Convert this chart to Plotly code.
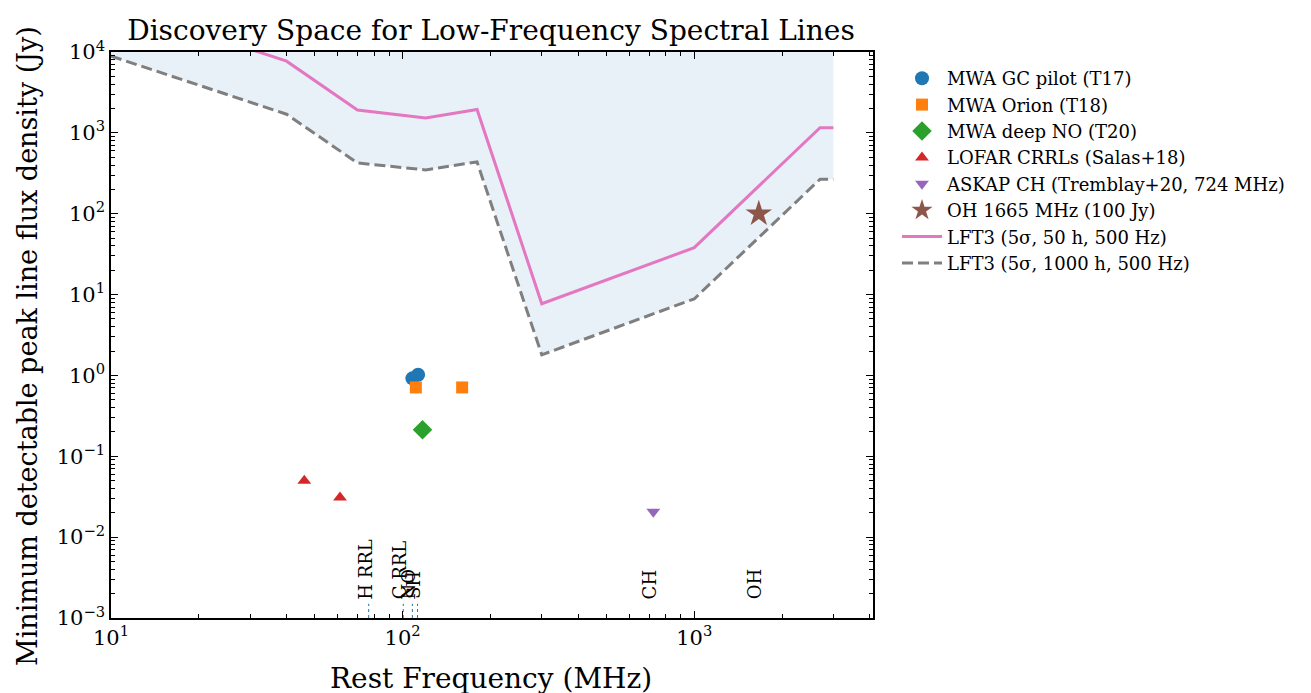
import math
import plotly.graph_objects as go

# ---- data ----
lft_freq = [10, 40, 70, 120, 180, 300, 1000, 2700, 3000]
lft_50h = [40000, 7700, 1920, 1530, 1950, 7.7, 38, 1160, 1160]
lft_1000h = [8900, 1700, 425, 348, 437, 1.8, 8.85, 267, 267]

gc_freq = [108, 113]
gc_flux = [0.92, 1.02]
orion_freq = [111, 160]
orion_flux = [0.71, 0.71]
no_freq = [117]
no_flux = [0.213]
lofar_freq = [46, 61]
lofar_flux = [0.050, 0.031]
askap_freq = [724]
askap_flux = [0.0206]
oh_freq = [1665]
oh_flux = [100]

line_names = ["H RRL", "C RRL", "NO", "SH", "CH", "OH"]
line_freqs = [76.5, 100.5, 108, 112.5, 724, 1665]
marked_lines = ["H RRL", "C RRL", "NO", "SH"]

x_tickvals = [10, 100, 1000]
x_ticktext = ["10<sup>1</sup>", "10<sup>2</sup>", "10<sup>3</sup>"]
y_tickvals = [1e-3, 1e-2, 1e-1, 1, 10, 100, 1e3, 1e4]
y_ticktext = ["10<sup>−3</sup>", "10<sup>−2</sup>", "10<sup>−1</sup>", "10<sup>0</sup>",
              "10<sup>1</sup>", "10<sup>2</sup>", "10<sup>3</sup>", "10<sup>4</sup>"]

FONT = "DejaVu Serif"
C = ["#1f77b4", "#ff7f0e", "#2ca02c", "#d62728", "#9467bd", "#8c564b", "#e377c2", "#7f7f7f"]

# page body has an 8px default margin; the plot area is placed accordingly
L, T, W, H = 103, 44, 762, 566
FIG_W, FIG_H = 1311, 693


def minor_vals(lo_exp, hi_exp):
    return [m * 10 ** e for e in range(lo_exp, hi_exp + 1) for m in range(2, 10)]


fig = go.Figure()

# discovery-space fill (between the 1000 h curve and the top of the axes)
fill_x = lft_freq + lft_freq[::-1]
fill_y = lft_1000h + [1e4] * len(lft_freq)
fig.add_trace(go.Scatter(x=fill_x, y=fill_y, fill="toself", mode="none",
                         fillcolor="rgba(31,119,180,0.1)", showlegend=False, hoverinfo="skip"))

fig.add_trace(go.Scatter(x=gc_freq, y=gc_flux, mode="markers", name="MWA GC pilot (T17)",
                         marker=dict(symbol="circle", size=14, color=C[0])))
fig.add_trace(go.Scatter(x=orion_freq, y=orion_flux, mode="markers", name="MWA Orion (T18)",
                         marker=dict(symbol="square", size=12, color=C[1])))
fig.add_trace(go.Scatter(x=no_freq, y=no_flux, mode="markers", name="MWA deep NO (T20)",
                         marker=dict(symbol="diamond", size=15, color=C[2])))
fig.add_trace(go.Scatter(x=lofar_freq, y=lofar_flux, mode="markers", name="LOFAR CRRLs (Salas+18)",
                         marker=dict(symbol="triangle-up", size=12, color=C[3])))
fig.add_trace(go.Scatter(x=askap_freq, y=askap_flux, mode="markers", name="ASKAP CH (Tremblay+20, 724 MHz)",
                         marker=dict(symbol="triangle-down", size=12, color=C[4])))
fig.add_trace(go.Scatter(x=oh_freq, y=oh_flux, mode="markers", name="OH 1665 MHz (100 Jy)",
                         marker=dict(symbol="star", size=20, color=C[5])))
fig.add_trace(go.Scatter(x=lft_freq, y=lft_50h, mode="lines", name="LFT3 (5σ, 50 h, 500 Hz)",
                         line=dict(color=C[6], width=3)))
fig.add_trace(go.Scatter(x=lft_freq, y=lft_1000h, mode="lines", name="LFT3 (5σ, 1000 h, 500 Hz)",
                         line=dict(color=C[7], width=3, dash="11px,5px")))

# short dotted markers at line frequencies + rotated labels
for name, f in zip(line_names, line_freqs):
    if name in marked_lines:
        fig.add_trace(go.Scatter(x=[f, f], y=[1e-3, 1.5e-3], mode="lines", showlegend=False,
                                 line=dict(color=C[0], width=1, dash="dot"), hoverinfo="skip"))
    fig.add_annotation(x=math.log10(f), y=math.log10(1.74e-3), xref="x", yref="y", text=name,
                       showarrow=False, textangle=-90, xanchor="center", yanchor="bottom",
                       xshift=-4, yshift=-2, borderpad=0,
                       font=dict(family=FONT, size=18, color="black"))

# axis titles as annotations for exact placement
fig.add_annotation(text="Rest Frequency (MHz)", xref="paper", yref="paper",
                   x=(491 - 8 - L) / W, y=-(677 - 617) / H, xanchor="center", yanchor="middle",
                   showarrow=False, font=dict(family=FONT, size=28, color="black"))
fig.add_annotation(text="Minimum detectable peak line flux density (Jy)", xref="paper", yref="paper",
                   x=(27 - 8 - L) / W, y=1 - (345 - 51) / H, xanchor="center", yanchor="middle",
                   textangle=-90, showarrow=False, font=dict(family=FONT, size=27, color="black"))

axis_common = dict(type="log", showgrid=False, zeroline=False, showline=True, linecolor="black",
                   linewidth=1.5, mirror="allticks", ticks="inside", ticklen=7, tickwidth=1.2,
                   tickcolor="black", automargin=False,
                   tickfont=dict(family=FONT, size=21, color="black"))

fig.update_layout(
    width=FIG_W, height=FIG_H,
    paper_bgcolor="white", plot_bgcolor="white",
    margin=dict(l=L, r=FIG_W - L - W, t=T, b=FIG_H - T - H),
    title=dict(text="Discovery Space for Low-Frequency Spectral Lines", x=(491 - 8) / FIG_W,
               xanchor="center", y=1 - (30 - 8) / FIG_H, yref="container", yanchor="middle",
               font=dict(family=FONT, size=28, color="black")),
    xaxis=dict(axis_common, range=[1, 3.613], tickvals=x_tickvals, ticktext=x_ticktext,
               minor=dict(tickmode="array", tickvals=minor_vals(1, 3), ticks="inside", ticklen=4,
                          tickwidth=1, tickcolor="black", showgrid=False)),
    yaxis=dict(axis_common, range=[-3, 4], tickvals=y_tickvals, ticktext=y_ticktext,
               minor=dict(tickmode="array", tickvals=minor_vals(-3, 3), ticks="inside", ticklen=4,
                          tickwidth=1, tickcolor="black", showgrid=False)),
    legend=dict(x=(897 - 8 - L) / W, y=1 - (59 - 51) / H, xanchor="left", yanchor="top",
                bgcolor="rgba(0,0,0,0)",
                font=dict(family=FONT, size=18, color="black"), itemwidth=40, tracegroupgap=0),
    font=dict(family=FONT),
)

fig.write_html("out.html")
